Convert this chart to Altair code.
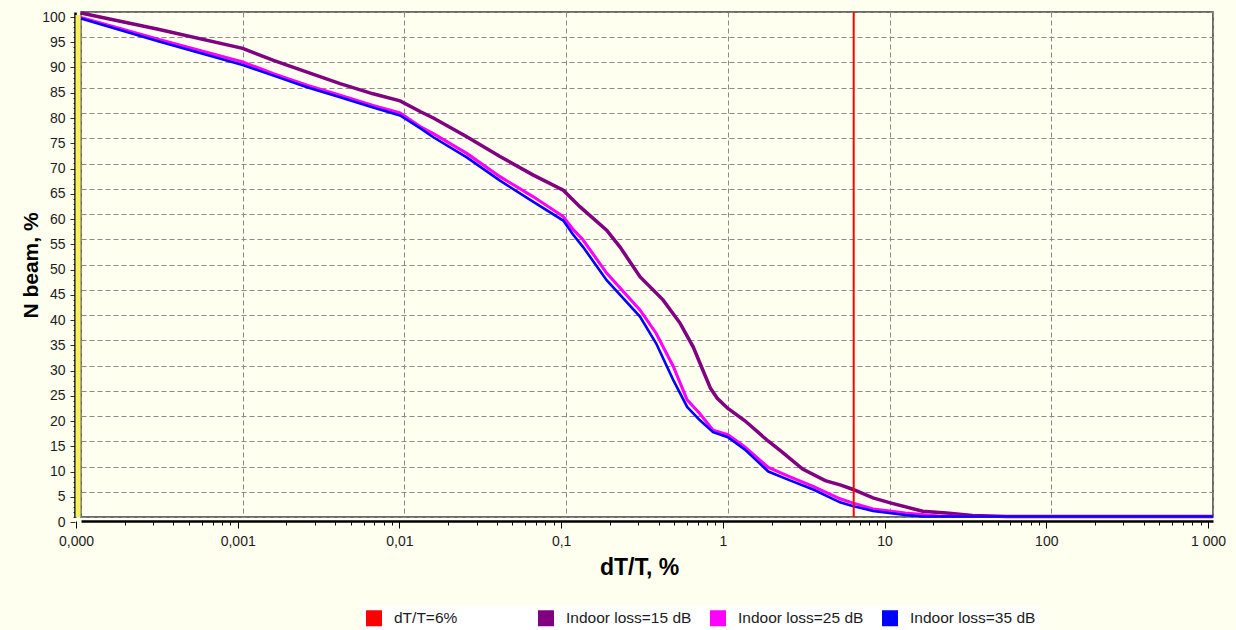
import altair as alt
import pandas as pd

# N beam (%) versus dT/T (%) for three indoor-loss cases
x_15 = [0.0001, 0.0003, 0.001, 0.00155, 0.0025, 0.004, 0.0064, 0.0094, 0.0125, 0.0151,
        0.0243, 0.039, 0.0627, 0.096, 0.122, 0.178, 0.215, 0.286, 0.397, 0.506,
        0.61, 0.70, 0.78, 0.86, 1.0, 1.27, 1.78, 2.16, 2.9, 4.0,
        5.0, 5.9, 7.9, 10.1, 16, 22.5, 32.5, 53, 1000]
y_15 = [99.8, 96.6, 92.8, 90.4, 88.1, 85.8, 83.8, 82.4, 80.3, 79.0,
        75.3, 71.4, 67.7, 64.7, 61.4, 56.8, 53.5, 47.6, 43.0, 38.4,
        33.7, 29.1, 25.5, 23.5, 21.5, 19.1, 15.0, 12.9, 9.5, 7.2,
        6.3, 5.5, 3.8, 2.8, 1.15, 0.8, 0.3, 0.1, 0.1]

x_25 = [0.0001, 0.0003, 0.001, 0.00155, 0.0025, 0.004, 0.0064, 0.0094, 0.0125, 0.0151,
        0.0243, 0.039, 0.0627, 0.096, 0.11, 0.127, 0.178, 0.286, 0.36, 0.46,
        0.56, 0.67, 0.81, 1.0, 1.27, 1.78, 2.4, 3.4, 4.94, 5.9,
        7.9, 12.5, 20, 30, 1000]
y_25 = [98.9, 94.6, 90.1, 87.8, 85.5, 83.5, 81.5, 80.0, 77.3, 75.9,
        72.0, 67.4, 63.4, 59.5, 57.0, 54.9, 48.3, 41.0, 36.4, 29.8,
        23.2, 20.5, 17.2, 16.3, 13.9, 9.8, 8.0, 6.0, 3.6, 2.8,
        1.6, 0.8, 0.2, 0.1, 0.1]

x_35 = [0.0001, 0.0003, 0.001, 0.00155, 0.0025, 0.004, 0.0064, 0.0094, 0.0125, 0.0151,
        0.0243, 0.039, 0.0627, 0.096, 0.11, 0.127, 0.178, 0.286, 0.36, 0.46,
        0.56, 0.67, 0.81, 1.0, 1.27, 1.78, 2.4, 3.4, 4.94, 5.9,
        7.9, 12.5, 16, 1000]
y_35 = [98.7, 94.2, 89.5, 87.4, 85.1, 83.1, 81.1, 79.5, 77.0, 75.2,
        71.2, 66.6, 62.4, 58.7, 56.0, 53.5, 46.9, 39.7, 34.4, 27.1,
        21.8, 19.2, 16.8, 15.8, 13.4, 9.0, 7.3, 5.4, 2.9, 2.2,
        1.2, 0.4, 0.1, 0.1]

threshold_x = 6  # dT/T = 6 %
threshold_name = "dT/T=6%"
series_names = ["Indoor loss=15 dB", "Indoor loss=25 dB", "Indoor loss=35 dB"]
series_colors = ["#800080", "#FF00FF", "#0000FF"]
series_widths = [3.5, 2.6, 2.6]

x_tick_values = [0.0001, 0.001, 0.01, 0.1, 1, 10, 100, 1000]
x_tick_labels = ["0,000", "0,001", "0,01", "0,1", "1", "10", "100", "1 000"]
y_grid_values = list(range(0, 101, 5))
y_tick_values = list(range(0, 101))

rows = []
for name, xs, ys in zip(series_names, [x_15, x_25, x_35], [y_15, y_25, y_35]):
    for i, (xv, yv) in enumerate(zip(xs, ys)):
        rows.append({"series": name, "x": xv, "y": yv, "order": i})
lines_df = pd.DataFrame(rows)
threshold_df = pd.DataFrame({"series": [threshold_name], "x": [threshold_x]})
frame_df = pd.DataFrame({"x": [x_tick_values[0]], "lo": [0], "hi": [100]})

# minor ticks on the log axis: 2..9 within each decade
x_minor = [round(m * d, 10) for d in x_tick_values[:-1] for m in range(2, 10)]
x_all_ticks = sorted(x_tick_values + x_minor)

label_expr = " : ".join(
    f"abs(datum.value - {v}) < {v} * 1e-6 ? '{t}'" for v, t in zip(x_tick_values, x_tick_labels)
) + " : ''"
decade_test = "abs(log(datum.value) / LN10 - round(log(datum.value) / LN10)) < 0.001"

FONT = "Liberation Sans"
TEXT = "#1c1c1c"
GRID = "#8a8a8a"

x_scale = alt.Scale(type="log", domain=[x_tick_values[0], x_tick_values[-1]], nice=False)
y_scale = alt.Scale(domain=[0, 100], nice=False, zero=False)

color_scale = alt.Scale(domain=[threshold_name] + series_names,
                        range=["#FF0000"] + series_colors)
legend = alt.Legend(
    title=None, orient="none", legendX=281, legendY=594, direction="horizontal",
    columns=4, gridAlign="all", columnPadding=4, symbolType="square",
    symbolSize=49, symbolStrokeWidth=9, symbolOffset=0, labelOffset=12,
    labelFont=FONT, labelFontSize=15.5, labelColor=TEXT, fillColor="#FFFFFF",
    padding=4,
)

grid_x_axis = alt.Axis(orient="bottom", values=x_tick_values, grid=True, gridColor=GRID,
                       gridDash=[5, 3], gridWidth=1, domain=False, ticks=False,
                       labels=False, title=None)
grid_y_axis = alt.Axis(orient="left", values=y_grid_values, grid=True, gridColor=GRID,
                       gridDash=[5, 3], gridWidth=1, domain=False, ticks=False,
                       labels=False, title=None)

label_x_axis = alt.Axis(
    orient="bottom", values=x_all_ticks, grid=False, domain=True, domainColor="#000000",
    domainWidth=2.5, offset=4, ticks=True, tickColor="#000000", tickWidth=1,
    tickSize={"condition": {"test": decade_test, "value": 7}, "value": 4},
    tickOffset=-5, labelExpr=label_expr, labelFont=FONT, labelFontSize=14,
    labelColor=TEXT, labelPadding=6, labelOverlap=False, labelFlush=False,
    title="dT/T, %", titleFont=FONT, titleFontSize=23, titleFontWeight="bold",
    titleColor="#000000", titleX=558, titleY=46, titleBaseline="middle",
)
label_y_axis = alt.Axis(
    orient="left", values=y_tick_values, grid=False, domain=True, domainColor="#000000",
    domainWidth=2.5, offset=6, ticks=True, tickColor="#333333", tickWidth=1,
    tickSize={"condition": {"test": "datum.value % 5 === 0", "value": 5}, "value": 2},
    tickOffset=5, labelExpr="datum.value % 5 === 0 ? datum.label : ''", labelFont=FONT,
    labelFontSize=14, labelColor=TEXT, labelPadding=5, labelOverlap=False,
    labelFlush=False, title="N beam, %", titleFont=FONT, titleFontSize=21,
    titleFontWeight="bold", titleColor="#000000", titleX=-44, titleY=253,
    titleBaseline="middle",
)

curves = alt.Chart(lines_df).mark_line(interpolate="linear").encode(
    x=alt.X("x:Q", scale=x_scale, axis=grid_x_axis),
    y=alt.Y("y:Q", scale=y_scale, axis=grid_y_axis),
    color=alt.Color("series:N", scale=color_scale, legend=legend,
                    sort=[threshold_name] + series_names),
    strokeWidth=alt.StrokeWidth("series:N", scale=alt.Scale(domain=series_names,
                                range=series_widths), legend=None),
    order="order:Q",
)

left_band = alt.Chart(frame_df).mark_rule(color="#F8F060", strokeWidth=5, xOffset=-3,
                                          yOffset=3).encode(
    x=alt.X("x:Q", scale=x_scale, axis=label_x_axis),
    y=alt.Y("hi:Q", scale=y_scale, axis=label_y_axis),
    y2="lo:Q",
)

threshold = alt.Chart(threshold_df).mark_rule(strokeWidth=2).encode(
    x=alt.X("x:Q", scale=x_scale, axis=None),
    color=alt.Color("series:N", scale=color_scale, legend=legend,
                    sort=[threshold_name] + series_names),
)

chart = alt.layer(curves, left_band, threshold).resolve_axis(
    x="independent", y="independent"
).properties(
    width=1132, height=505,
    padding={"left": 81, "top": 12, "right": 23, "bottom": 113},
    autosize=alt.AutoSizeParams(type="none"),
    background="#FFFFF0",
).configure_view(stroke="#3a3a3a", strokeWidth=1.5, fill="#FFFFF0")

chart.save("out.html", embed_options={"renderer": "svg", "actions": False})
